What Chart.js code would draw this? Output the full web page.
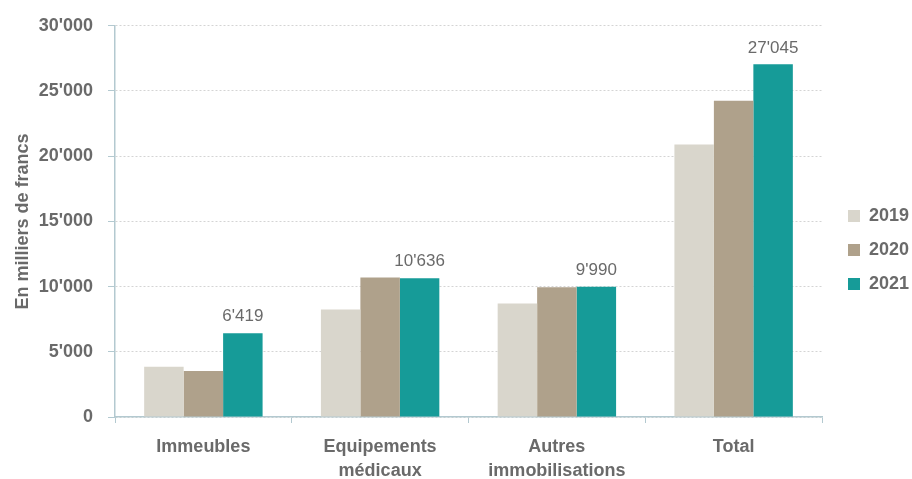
<!DOCTYPE html>
<html>
<head>
<meta charset="utf-8">
<script src="https://cdn.jsdelivr.net/npm/chart.js@4/dist/chart.umd.min.js"></script>
<style>
  html, body { margin: 0; padding: 0; background: #fff; }
  #wrap { width: 912px; height: 479px; }
</style>
</head>
<body>
<div id="wrap"><canvas id="c"></canvas></div>
<script>
// données
const categories = ['Immeubles', ['Equipements', 'médicaux'], ['Autres', 'immobilisations'], 'Total'];
const years = ['2019', '2020', '2021'];
const values2019 = [3850, 8240, 8700, 20900];
const values2020 = [3520, 10700, 9950, 24250];
const values2021 = [6419, 10636, 9990, 27045];
const yTicks = [0, 5000, 10000, 15000, 20000, 25000, 30000];

const colors = ['#D9D6CC', '#AFA18B', '#169B98'];
const textGray = '#6a6a6a';
const axisBlue = '#b3c9d0';
const FONT = '"Liberation Sans", Arial, sans-serif';

const fmt = v => String(v).replace(/\B(?=(\d{3})+(?!\d))/g, "'");

// étiquettes au-dessus des barres 2021
const valueLabels = {
  id: 'valueLabels',
  afterDatasetsDraw(chart) {
    const ctx = chart.ctx;
    const meta = chart.getDatasetMeta(2);
    ctx.save();
    ctx.font = '17px ' + FONT;
    ctx.fillStyle = textGray;
    ctx.textAlign = 'center';
    ctx.textBaseline = 'bottom';
    meta.data.forEach((bar, i) => {
      ctx.fillText(fmt(values2021[i]), bar.x, bar.y - 8);
    });
    ctx.restore();
  }
};

// décale la légende vers la droite
const legendShift = {
  id: 'legendShift',
  afterLayout(chart) {
    const lg = chart.legend;
    lg.left += 10; lg.right += 10;
    lg.top -= 2; lg.bottom -= 2;
  }
};

new Chart(document.getElementById('c').getContext('2d'), {
  type: 'bar',
  data: {
    labels: categories,
    datasets: years.map((y, i) => ({
      label: y,
      data: [values2019, values2020, values2021][i],
      backgroundColor: colors[i],
      borderWidth: 0,
      categoryPercentage: 0.67,
      barPercentage: 1.0
    }))
  },
  options: {
    responsive: true,
    maintainAspectRatio: false,
    animation: false,
    layout: { padding: { top: 25, right: 10, left: 0, bottom: 0 } },
    plugins: {
      tooltip: { enabled: false },
      legend: {
        position: 'right',
        maxWidth: 80,
        labels: {
          boxWidth: 12,
          boxHeight: 12,
          padding: 16,
          color: textGray,
          font: { family: FONT, size: 18, weight: 'bold' }
        }
      }
    },
    scales: {
      x: {
        afterFit: s => { s.height = 62; },
        grid: {
          drawOnChartArea: false,
          drawTicks: true,
          tickLength: 6,
          color: axisBlue
        },
        border: { color: axisBlue, width: 1.5 },
        ticks: {
          color: textGray,
          padding: 12,
          maxRotation: 0,
          font: { family: FONT, size: 18, weight: 'bold', lineHeight: 1.35 }
        }
      },
      y: {
        min: 0,
        max: 30000,
        afterFit: s => { s.width = 115; },
        afterBuildTicks: s => { s.ticks = yTicks.map(v => ({ value: v })); },
        grid: {
          color: '#d4d4d4',
          tickColor: axisBlue,
          tickLength: 7
        },
        border: { color: axisBlue, width: 1.5, dash: [2, 2] },
        title: {
          display: true,
          text: 'En milliers de francs',
          color: textGray,
          padding: { top: 12, bottom: 0 },
          font: { family: FONT, size: 18, weight: 'bold' }
        },
        ticks: {
          color: textGray,
          padding: 15,
          font: { family: FONT, size: 18, weight: 'bold' },
          callback: v => fmt(v)
        }
      }
    }
  },
  plugins: [valueLabels, legendShift]
});
</script>
</body>
</html>
